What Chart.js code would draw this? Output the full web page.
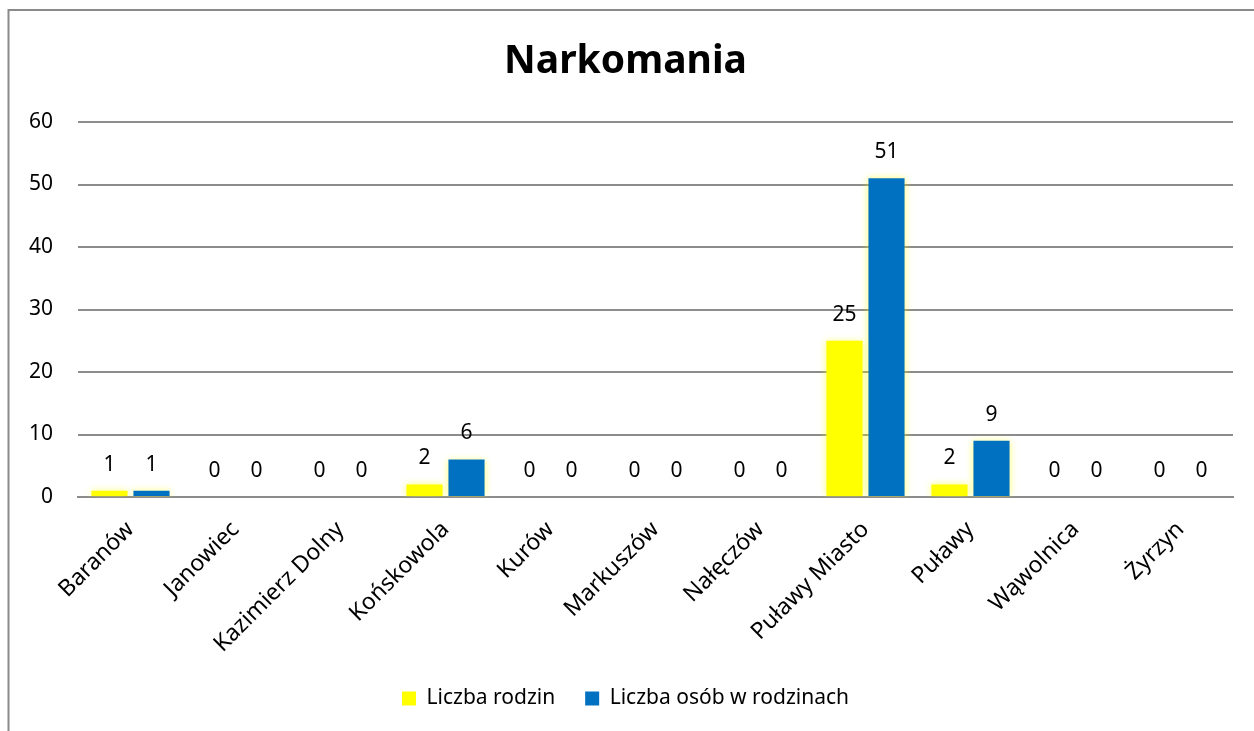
<!DOCTYPE html>
<html>
<head>
<meta charset="utf-8">
<script src="https://cdn.jsdelivr.net/npm/chart.js@4.4.1/dist/chart.umd.min.js"></script>
<style>
  html, body { margin: 0; padding: 0; background: #ffffff; overflow: hidden; }
  #wrap { width: 1254px; height: 731px; position: relative; }
</style>
</head>
<body>
<div id="wrap"><canvas id="narkomania_chart" width="1254" height="731"></canvas></div>
<script>
const gminy = ["Baranów", "Janowiec", "Kazimierz Dolny", "Końskowola", "Kurów", "Markuszów",
    "Nałęczów", "Puławy Miasto", "Puławy", "Wąwolnica", "Żyrzyn"];
const liczba_rodzin = [1, 0, 0, 2, 0, 0, 0, 25, 2, 0, 0];
const liczba_osob = [1, 0, 0, 6, 0, 0, 0, 51, 9, 0, 0];
const y_ticks = [0, 10, 20, 30, 40, 50, 60];

const font_family = "'Noto Sans', 'Open Sans', sans-serif";
const grid_color = "#8c8c8c";

// ramka wykresu (tylko lewa i gorna krawedz widoczna)
const frame_plugin = {
    id: "frame",
    beforeDraw(chart) {
        const ctx = chart.ctx;
        ctx.save();
        ctx.strokeStyle = "#8a8a8a";
        ctx.lineWidth = 2;
        ctx.beginPath();
        ctx.moveTo(8.5, chart.height + 5);
        ctx.lineTo(8.5, 10);
        ctx.lineTo(chart.width + 5, 10);
        ctx.stroke();
        ctx.restore();
    }
};

// delikatna poswiata wokol slupkow
const glow_plugin = {
    id: "glow",
    beforeDatasetsDraw(chart) {
        const ctx = chart.ctx;
        ctx.save();
        ctx.shadowColor = "rgba(255, 255, 0, 0.55)";
        ctx.shadowBlur = 7;
    },
    afterDatasetsDraw(chart) {
        chart.ctx.restore();
    }
};

// etykiety wartosci nad slupkami
const value_labels_plugin = {
    id: "valueLabels",
    afterDatasetsDraw(chart) {
        const ctx = chart.ctx;
        ctx.save();
        ctx.font = "21px " + font_family;
        ctx.fillStyle = "#000000";
        ctx.textAlign = "center";
        ctx.textBaseline = "middle";
        chart.data.datasets.forEach((ds, i) => {
            chart.getDatasetMeta(i).data.forEach((bar, j) => {
                ctx.fillText(String(ds.data[j]), bar.x, bar.y - 26);
            });
        });
        ctx.restore();
    }
};

const narkomania_chart = new Chart("narkomania_chart",
{
    type: "bar",
    data:
    {
        labels: gminy,
        datasets:
        [
            {
                label: "Liczba rodzin",
                data: liczba_rodzin,
                backgroundColor: "#ffff00",
                borderWidth: 0
            },
            {
                label: "Liczba osób w rodzinach",
                data: liczba_osob,
                backgroundColor: "#0070c0",
                borderWidth: 0
            }
        ]
    },
    options:
    {
        animation: false,
        responsive: false,
        categoryPercentage: 0.8,
        barPercentage: 0.86,
        layout:
        {
            padding: { left: 18, right: 21, top: 0, bottom: 12 }
        },
        plugins:
        {
            tooltip: { enabled: false },
            title:
            {
                display: true,
                text: "Narkomania",
                color: "#000000",
                font: { family: font_family, size: 39, weight: "bold" },
                padding: { top: 38.6, bottom: 36.6 }
            },
            legend:
            {
                display: true,
                position: "bottom",
                labels:
                {
                    color: "#000000",
                    boxWidth: 14,
                    boxHeight: 14,
                    padding: 30,
                    font: { family: font_family, size: 21 }
                }
            }
        },
        scales:
        {
            x:
            {
                grid: { display: false, drawTicks: false },
                border: { display: true, color: grid_color, width: 2 },
                ticks:
                {
                    color: "#000000",
                    autoSkip: false,
                    maxRotation: 45,
                    minRotation: 45,
                    padding: 19,
                    font: { family: font_family, size: 23 }
                },
                afterFit(scale) { scale.height = 161; }
            },
            y:
            {
                min: 0,
                max: 60,
                afterBuildTicks(scale) { scale.ticks = y_ticks.map(v => ({ value: v })); },
                grid: { color: grid_color, lineWidth: 2, drawTicks: false },
                border: { display: false },
                ticks:
                {
                    color: "#000000",
                    padding: 25,
                    font: { family: font_family, size: 21 }
                },
                afterFit(scale) { scale.width = 60; }
            }
        }
    },
    plugins: [frame_plugin, glow_plugin, value_labels_plugin]
});
</script>
</body>
</html>
